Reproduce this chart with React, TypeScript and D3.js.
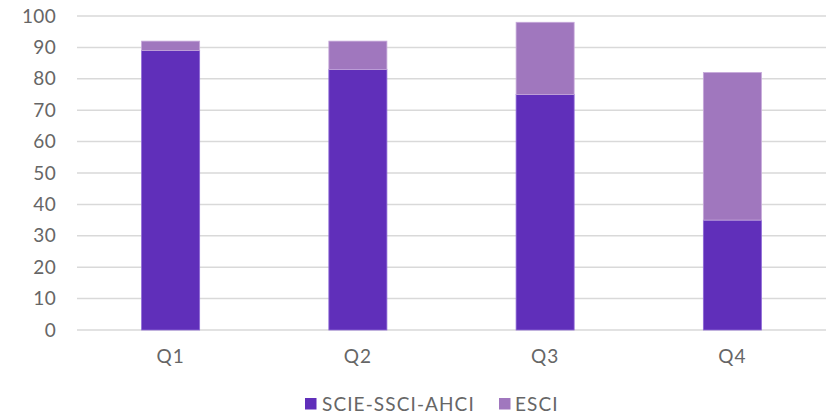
import React from "react";
import * as d3 from "d3";

const categories = ["Q1", "Q2", "Q3", "Q4"];
const scieValues = [89, 83, 75, 35];
const esciValues = [3, 9, 23, 47];
const seriesNames = ["SCIE-SSCI-AHCI", "ESCI"];
const yTicks = [0, 10, 20, 30, 40, 50, 60, 70, 80, 90, 100];

const W = 835;
const H = 418;
const left = 77;
const right = 826;
const top = 16;
const bottom = 330;
const colors = ["#602FBA", "#A077BE"];
const font = "Lato, 'Open Sans', sans-serif";
const textColor = "#666666";

export default function App() {
  const x = d3.scaleBand<string>().domain(categories).range([left, right]).paddingInner(0.69).paddingOuter(0.345);
  const y = d3.scaleLinear().domain([0, 100]).range([bottom, top]);
  const rows = categories.map((c, i) => ({ cat: c, scie: scieValues[i], esci: esciValues[i] }));
  const stack = d3.stack<any>().keys(["scie", "esci"])(rows);

  return (
    <svg width={W} height={H} style={{ position: "absolute", left: 0, top: 0 }}>
      <rect width={W} height={H} fill="#fff" />
      {yTicks.map((t) => (
        <g key={t}>
          <line x1={left} x2={right} y1={y(t)} y2={y(t)} stroke="#D9D9D9" strokeWidth={1.5} />
          <text x={56} y={y(t)} dy="0.35em" textAnchor="end" fontFamily={font} fontSize={19} fill={textColor} letterSpacing={0.3}>
            {t}
          </text>
        </g>
      ))}
      {stack.map((s, si) =>
        s.map((d, i) => (
          <rect
            key={si + "-" + i}
            x={x(categories[i])!}
            width={x.bandwidth()}
            y={y(d[1])}
            height={y(d[0]) - y(d[1])}
            fill={colors[si]}
            stroke={si === 0 ? "#8E6AD6" : "#C6A9DA"}
            strokeWidth={0.8}
          />
        ))
      )}
      {categories.map((c) => (
        <text key={c} x={x(c)! + x.bandwidth() / 2} y={356} dy="0.35em" textAnchor="middle" fontFamily={font} fontSize={19} fill={textColor} letterSpacing={1}>
          {c}
        </text>
      ))}
      <g>
        <rect x={305} y={398} width={11.5} height={11.5} fill={colors[0]} />
        <text x={322} y={404} dy="0.35em" fontFamily={font} fontSize={19} fill={textColor} letterSpacing={1.1}>
          {seriesNames[0]}
        </text>
        <rect x={499} y={398} width={11.5} height={11.5} fill={colors[1]} />
        <text x={515} y={404} dy="0.35em" fontFamily={font} fontSize={19} fill={textColor} letterSpacing={1.1}>
          {seriesNames[1]}
        </text>
      </g>
    </svg>
  );
}
